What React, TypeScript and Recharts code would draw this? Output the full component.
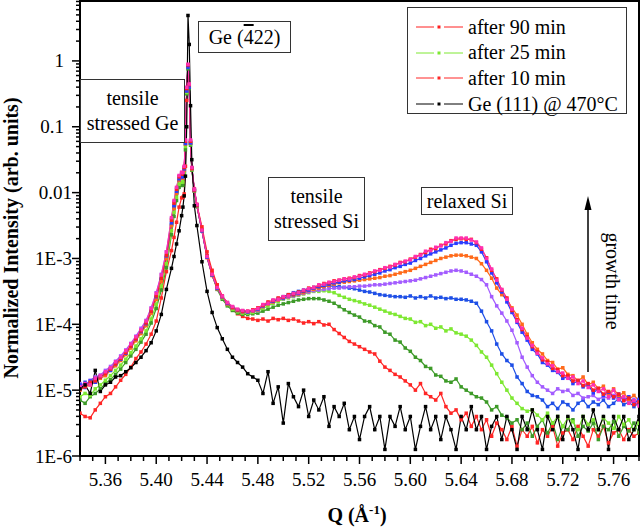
import { LineChart, Line, XAxis, YAxis, ReferenceArea } from "recharts";

const FONT = "'Liberation Serif', 'Times New Roman', serif";

// Q in 1/Å, denser round the Ge (-422) peak
const qValues = [
  5.340, 5.344, 5.348, 5.352, 5.356, 5.360, 5.364, 5.368, 5.372, 5.376,
  5.380, 5.384, 5.388, 5.392, 5.396, 5.400, 5.404, 5.408, 5.412, 5.414,
  5.416, 5.418, 5.420, 5.421, 5.422, 5.423, 5.424, 5.425, 5.426, 5.427,
  5.428, 5.430, 5.432, 5.436, 5.440, 5.444, 5.448, 5.452, 5.456, 5.460,
  5.464, 5.468, 5.472, 5.476, 5.480, 5.484, 5.488, 5.492, 5.496, 5.500,
  5.504, 5.508, 5.512, 5.516, 5.520, 5.524, 5.528, 5.532, 5.536, 5.540,
  5.544, 5.548, 5.552, 5.556, 5.560, 5.564, 5.568, 5.572, 5.576, 5.580,
  5.584, 5.588, 5.592, 5.596, 5.600, 5.604, 5.608, 5.612, 5.616, 5.620,
  5.624, 5.628, 5.632, 5.636, 5.640, 5.644, 5.648, 5.652, 5.656, 5.660,
  5.664, 5.668, 5.672, 5.676, 5.680, 5.684, 5.688, 5.692, 5.696, 5.700,
  5.704, 5.708, 5.712, 5.716, 5.720, 5.724, 5.728, 5.732, 5.736, 5.740,
  5.744, 5.748, 5.752, 5.756, 5.760, 5.764, 5.768, 5.772, 5.776, 5.780,
];

// all series: log10 of the normalized intensity
const pinkScan = [
  -4.95, -4.90, -4.92, -4.82, -4.78, -4.72, -4.66, -4.57, -4.50, -4.40,
  -4.30, -4.19, -4.08, -3.95, -3.76, -3.53, -3.25, -2.90, -2.38, -2.12,
  -1.92, -1.74, -1.69, -1.70, -1.60, -1.20, -0.40, -0.05, -0.35, -1.20,
  -1.62, -1.95, -2.18, -2.57, -2.97, -3.24, -3.44, -3.57, -3.67, -3.73,
  -3.77, -3.79, -3.80, -3.79, -3.76, -3.70, -3.68, -3.63, -3.62, -3.58,
  -3.57, -3.53, -3.52, -3.48, -3.46, -3.44, -3.40, -3.39, -3.36, -3.35,
  -3.33, -3.31, -3.31, -3.28, -3.27, -3.24, -3.23, -3.19, -3.18, -3.14,
  -3.13, -3.09, -3.07, -3.04, -3.02, -2.97, -2.95, -2.89, -2.88, -2.83,
  -2.81, -2.76, -2.74, -2.69, -2.69, -2.69, -2.72, -2.75, -2.84, -3.00,
  -3.16, -3.33, -3.47, -3.62, -3.77, -3.95, -4.06, -4.21, -4.32, -4.44,
  -4.51, -4.60, -4.63, -4.72, -4.74, -4.82, -4.80, -4.90, -4.86, -4.96,
  -4.92, -5.02, -4.98, -5.10, -5.00, -5.14, -5.10, -5.20, -5.16, -5.24,
];

const after90 = [
  -4.98, -4.95, -4.88, -4.86, -4.80, -4.75, -4.68, -4.60, -4.52, -4.43,
  -4.33, -4.22, -4.10, -3.98, -3.80, -3.57, -3.30, -2.95, -2.42, -2.16,
  -1.95, -1.76, -1.71, -1.72, -1.62, -1.22, -0.42, -0.06, -0.36, -1.22,
  -1.63, -1.96, -2.19, -2.56, -2.96, -3.23, -3.43, -3.57, -3.67, -3.74,
  -3.78, -3.80, -3.80, -3.78, -3.75, -3.71, -3.66, -3.64, -3.60, -3.59,
  -3.55, -3.54, -3.51, -3.49, -3.45, -3.44, -3.41, -3.38, -3.37, -3.34,
  -3.33, -3.31, -3.30, -3.29, -3.26, -3.25, -3.22, -3.20, -3.17, -3.15,
  -3.12, -3.10, -3.06, -3.05, -3.01, -2.98, -2.94, -2.91, -2.86, -2.85,
  -2.80, -2.78, -2.73, -2.71, -2.70, -2.71, -2.71, -2.76, -2.86, -2.99,
  -3.18, -3.31, -3.48, -3.60, -3.79, -3.93, -4.08, -4.19, -4.34, -4.42,
  -4.54, -4.57, -4.67, -4.69, -4.78, -4.78, -4.86, -4.85, -4.93, -4.90,
  -5.00, -4.97, -5.06, -5.02, -5.10, -5.06, -5.16, -5.12, -5.22, -5.18,
];

const blueScan = [
  -4.92, -4.96, -4.86, -4.88, -4.80, -4.74, -4.70, -4.60, -4.53, -4.44,
  -4.33, -4.22, -4.11, -3.99, -3.80, -3.58, -3.30, -2.96, -2.46, -2.20,
  -1.98, -1.79, -1.76, -1.76, -1.64, -1.25, -0.45, -0.08, -0.38, -1.24,
  -1.63, -1.96, -2.19, -2.58, -2.98, -3.25, -3.45, -3.58, -3.68, -3.74,
  -3.78, -3.80, -3.81, -3.79, -3.77, -3.72, -3.68, -3.65, -3.62, -3.60,
  -3.57, -3.55, -3.53, -3.50, -3.48, -3.45, -3.43, -3.41, -3.39, -3.37,
  -3.36, -3.34, -3.33, -3.32, -3.30, -3.28, -3.26, -3.24, -3.22, -3.19,
  -3.17, -3.14, -3.12, -3.09, -3.07, -3.03, -3.00, -2.96, -2.93, -2.90,
  -2.87, -2.84, -2.80, -2.77, -2.76, -2.76, -2.78, -2.80, -2.90, -3.05,
  -3.22, -3.37, -3.51, -3.66, -3.82, -3.97, -4.12, -4.24, -4.38, -4.45,
  -4.58, -4.62, -4.70, -4.73, -4.82, -4.80, -4.90, -4.86, -4.95, -4.92,
  -5.04, -4.98, -5.08, -5.03, -5.12, -5.06, -5.15, -5.10, -5.20, -5.14,
];

const orangeScan = [
  -5.00, -4.95, -4.92, -4.88, -4.82, -4.78, -4.70, -4.63, -4.55, -4.46,
  -4.36, -4.25, -4.14, -4.02, -3.83, -3.62, -3.35, -3.00, -2.50, -2.24,
  -2.01, -1.81, -1.78, -1.78, -1.66, -1.26, -0.45, -0.08, -0.38, -1.24,
  -1.64, -1.97, -2.20, -2.58, -2.99, -3.26, -3.46, -3.59, -3.69, -3.75,
  -3.79, -3.81, -3.81, -3.80, -3.78, -3.73, -3.69, -3.66, -3.63, -3.60,
  -3.58, -3.56, -3.54, -3.52, -3.49, -3.47, -3.45, -3.43, -3.41, -3.39,
  -3.37, -3.36, -3.35, -3.34, -3.33, -3.32, -3.31, -3.30, -3.29, -3.27,
  -3.26, -3.24, -3.22, -3.20, -3.18, -3.15, -3.12, -3.09, -3.06, -3.03,
  -3.00, -2.98, -2.96, -2.95, -2.95, -2.96, -2.98, -3.00, -3.08, -3.18,
  -3.30, -3.45, -3.55, -3.62, -3.75, -3.86, -4.00, -4.15, -4.28, -4.38,
  -4.45, -4.55, -4.58, -4.68, -4.66, -4.76, -4.78, -4.86, -4.80, -4.92,
  -4.88, -4.98, -4.94, -5.06, -4.98, -5.08, -5.04, -5.14, -5.08, -5.16,
];

const violetScan = [
  -4.90, -4.93, -4.85, -4.80, -4.77, -4.70, -4.64, -4.56, -4.48, -4.39,
  -4.29, -4.18, -4.06, -3.94, -3.75, -3.52, -3.24, -2.90, -2.40, -2.14,
  -1.93, -1.75, -1.70, -1.71, -1.61, -1.21, -0.42, -0.06, -0.36, -1.21,
  -1.62, -1.95, -2.19, -2.57, -2.97, -3.24, -3.45, -3.58, -3.68, -3.74,
  -3.78, -3.80, -3.81, -3.80, -3.79, -3.73, -3.69, -3.66, -3.63, -3.61,
  -3.59, -3.57, -3.55, -3.53, -3.51, -3.49, -3.48, -3.47, -3.46, -3.45,
  -3.45, -3.44, -3.43, -3.43, -3.42, -3.42, -3.41, -3.40, -3.40, -3.39,
  -3.38, -3.37, -3.36, -3.35, -3.34, -3.33, -3.31, -3.29, -3.27, -3.25,
  -3.23, -3.21, -3.19, -3.18, -3.19, -3.21, -3.24, -3.27, -3.32, -3.40,
  -3.58, -3.72, -3.83, -3.95, -4.09, -4.28, -4.50, -4.65, -4.78, -4.88,
  -4.95, -5.00, -5.05, -4.98, -5.02, -5.00, -5.08, -5.05, -5.12, -5.10,
  -5.08, -5.14, -5.10, -5.12, -5.08, -5.15, -5.12, -5.18, -5.14, -5.16,
];

const royalBlueScan = [
  -4.95, -4.88, -4.90, -4.84, -4.79, -4.76, -4.68, -4.60, -4.53, -4.44,
  -4.34, -4.23, -4.12, -4.00, -3.82, -3.60, -3.32, -2.98, -2.48, -2.22,
  -2.00, -1.81, -1.78, -1.78, -1.66, -1.26, -0.46, -0.10, -0.40, -1.25,
  -1.64, -1.97, -2.20, -2.58, -2.98, -3.25, -3.46, -3.59, -3.69, -3.75,
  -3.79, -3.81, -3.81, -3.80, -3.79, -3.72, -3.68, -3.64, -3.61, -3.58,
  -3.55, -3.52, -3.50, -3.48, -3.46, -3.44, -3.43, -3.42, -3.42, -3.42,
  -3.43, -3.44, -3.45, -3.46, -3.48, -3.50, -3.51, -3.53, -3.55, -3.56,
  -3.57, -3.58, -3.58, -3.59, -3.57, -3.60, -3.58, -3.60, -3.57, -3.60,
  -3.59, -3.61, -3.60, -3.62, -3.62, -3.63, -3.65, -3.68, -3.80, -3.96,
  -4.10, -4.30, -4.45, -4.55, -4.62, -4.80, -4.90, -5.02, -5.08, -5.10,
  -5.15, -5.25, -5.20, -5.28, -5.18, -5.22, -5.30, -5.20, -5.15, -5.25,
  -5.18, -5.22, -5.15, -5.25, -5.20, -5.12, -5.22, -5.18, -5.25, -5.20,
];

const after25 = [
  -5.10, -5.05, -5.08, -4.98, -4.92, -4.85, -4.78, -4.70, -4.62, -4.53,
  -4.43, -4.33, -4.22, -4.10, -3.92, -3.70, -3.42, -3.08, -2.58, -2.30,
  -2.07, -1.87, -1.84, -1.84, -1.70, -1.30, -0.48, -0.10, -0.40, -1.26,
  -1.65, -1.97, -2.20, -2.57, -2.97, -3.25, -3.46, -3.60, -3.70, -3.77,
  -3.81, -3.83, -3.83, -3.82, -3.80, -3.76, -3.72, -3.68, -3.65, -3.62,
  -3.60, -3.58, -3.56, -3.54, -3.52, -3.50, -3.50, -3.49, -3.50, -3.52,
  -3.56, -3.59, -3.62, -3.64, -3.66, -3.69, -3.71, -3.74, -3.77, -3.80,
  -3.83, -3.85, -3.88, -3.91, -3.92, -3.97, -3.96, -4.02, -4.00, -4.06,
  -4.04, -4.10, -4.07, -4.13, -4.15, -4.18, -4.24, -4.32, -4.42, -4.50,
  -4.62, -4.75, -4.88, -5.00, -5.12, -5.20, -5.28, -5.32, -5.30, -5.38,
  -5.45, -5.35, -5.50, -5.40, -5.55, -5.42, -5.48, -5.60, -5.40, -5.52,
  -5.45, -5.60, -5.42, -5.50, -5.58, -5.40, -5.52, -5.45, -5.60, -5.50,
];

const darkGreenScan = [
  -5.15, -5.20, -5.10, -5.05, -4.98, -4.90, -4.84, -4.76, -4.68, -4.58,
  -4.48, -4.38, -4.27, -4.15, -3.98, -3.76, -3.48, -3.14, -2.64, -2.36,
  -2.12, -1.92, -1.89, -1.89, -1.75, -1.35, -0.50, -0.12, -0.42, -1.28,
  -1.66, -1.98, -2.21, -2.57, -2.96, -3.25, -3.47, -3.62, -3.72, -3.79,
  -3.83, -3.85, -3.85, -3.84, -3.83, -3.80, -3.77, -3.74, -3.71, -3.69,
  -3.67, -3.65, -3.63, -3.62, -3.61, -3.61, -3.61, -3.63, -3.65, -3.68,
  -3.73, -3.78, -3.82, -3.86, -3.89, -3.95, -3.96, -4.02, -4.04, -4.12,
  -4.15, -4.24, -4.27, -4.36, -4.41, -4.50, -4.55, -4.64, -4.67, -4.77,
  -4.79, -4.86, -4.88, -4.83, -4.95, -5.00, -5.05, -5.10, -5.12, -5.18,
  -5.30, -5.25, -5.38, -5.42, -5.50, -5.45, -5.60, -5.50, -5.70, -5.55,
  -5.45, -5.65, -5.50, -5.75, -5.55, -5.60, -5.45, -5.70, -5.55, -5.62,
  -5.50, -5.75, -5.55, -5.60, -5.48, -5.70, -5.55, -5.62, -5.50, -5.65,
];

const after10 = [
  -5.35, -5.40, -5.42, -5.30, -5.20, -5.10, -5.05, -4.95, -4.85, -4.76,
  -4.65, -4.52, -4.42, -4.30, -4.15, -3.95, -3.60, -3.20, -2.88, -2.68,
  -2.45, -2.22, -2.08, -2.07, -2.02, -1.60, -0.60, -0.08, -0.40, -1.25,
  -1.62, -1.94, -2.18, -2.52, -2.90, -3.18, -3.40, -3.57, -3.70, -3.78,
  -3.84, -3.88, -3.91, -3.92, -3.94, -3.92, -3.95, -3.91, -3.93, -3.91,
  -3.94, -3.92, -3.95, -3.98, -3.96, -3.99, -3.96, -4.01, -4.00, -4.08,
  -4.14, -4.20, -4.26, -4.30, -4.34, -4.38, -4.42, -4.45, -4.56, -4.65,
  -4.70, -4.76, -4.80, -4.86, -4.92, -5.00, -4.90, -5.05, -5.10, -5.15,
  -5.05, -5.25, -5.35, -5.30, -5.45, -5.35, -5.55, -5.40, -5.60, -5.45,
  -5.70, -5.50, -5.60, -5.75, -5.55, -5.85, -5.60, -5.70, -5.55, -5.80,
  -5.60, -5.70, -5.55, -5.85, -5.65, -5.60, -5.75, -5.55, -5.70, -5.85,
  -5.60, -5.70, -5.55, -5.80, -5.65, -5.60, -5.75, -5.60, -5.70, -5.65,
];

const ge111 = [
  -4.98, -4.92, -5.05, -4.70, -5.02, -4.92, -4.88, -4.80, -4.78, -4.72,
  -4.66, -4.58, -4.50, -4.40, -4.28, -4.10, -3.85, -3.47, -3.15, -2.97,
  -2.78, -2.58, -2.35, -2.22, -2.05, -1.75, -1.00, 0.69, 0.25, -0.68,
  -1.50, -2.20, -2.50, -3.05, -3.50, -3.82, -4.05, -4.22, -4.38, -4.50,
  -4.58, -4.65, -4.75, -4.80, -4.85, -5.05, -4.72, -5.20, -4.95, -5.50,
  -4.90, -5.10, -5.25, -5.00, -5.40, -5.15, -5.30, -5.10, -5.55, -5.25,
  -5.40, -5.20, -5.60, -5.40, -5.75, -5.40, -5.25, -5.60, -5.40, -5.90,
  -5.40, -5.55, -5.25, -5.60, -5.40, -5.90, -5.55, -5.25, -5.60, -5.40,
  -5.75, -5.40, -5.60, -5.90, -5.40, -5.60, -5.25, -5.60, -5.40, -5.90,
  -5.55, -5.40, -5.75, -5.40, -5.60, -5.90, -5.40, -5.60, -5.30, -5.60,
  -5.90, -5.40, -5.60, -5.40, -5.75, -5.40, -5.60, -5.90, -5.40, -5.60,
  -5.30, -5.60, -5.40, -5.90, -5.40, -5.60, -5.40, -5.75, -5.60, -5.40,
];

// draw order: weakest first, Ge reference on top
const series = [
  { key: "s10", data: after10, color: "#ff2626" },
  { key: "sDarkGreen", data: darkGreenScan, color: "#3d9a28" },
  { key: "s25", data: after25, color: "#7ee832" },
  { key: "sRoyal", data: royalBlueScan, color: "#1e4fe6" },
  { key: "sViolet", data: violetScan, color: "#a35cff" },
  { key: "sOrange", data: orangeScan, color: "#ff6a1a" },
  { key: "sBlue", data: blueScan, color: "#2a3cff" },
  { key: "s90", data: after90, color: "#ff2020" },
  { key: "sPink", data: pinkScan, color: "#ff30b0" },
  { key: "ge", data: ge111, color: "#000000" },
];

const legendItems = [
  { label: "after 90 min", color: "#ff2020" },
  { label: "after 25 min", color: "#7ee832" },
  { label: "after 10 min", color: "#ff2626" },
  { label: "Ge (111) @ 470°C", color: "#000000" },
];

const X_TICKS = Array.from({ length: 45 }, (_, i) => +(5.34 + i * 0.01).toFixed(2));
const Y_TICKS: number[] = [];
for (let n = -6; n <= 0; n++) {
  for (let k = 1; k <= 9; k++) {
    const v = n + Math.log10(k);
    if (v <= 0.91) Y_TICKS.push(v);
  }
}
const Y_LABELS: Record<string, string> = {
  "0": "1", "-1": "0.1", "-2": "0.01", "-3": "1E-3", "-4": "1E-4", "-5": "1E-5", "-6": "1E-6",
};

const rows = qValues.map((q, i) => {
  const row: Record<string, number> = { q };
  series.forEach((s) => (row[s.key] = s.data[i]));
  return row;
});

function XTick({ x, y, payload }: any) {
  const v = payload.value as number;
  const major = Math.round(v * 100) % 4 === 0;
  return (
    <g>
      <line x1={x} x2={x} y1={y} y2={y + (major ? 8 : 5)} stroke="#000" strokeWidth={1.5} />
      {major && (
        <text x={x} y={y + 30} textAnchor="middle" fontSize={19} fontFamily={FONT} fill="#000">
          {v.toFixed(2)}
        </text>
      )}
    </g>
  );
}

function YTick({ x, y, payload }: any) {
  const v = payload.value as number;
  const major = Math.abs(v - Math.round(v)) < 1e-6;
  const label = major ? Y_LABELS[String(Math.round(v))] : null;
  const shift = label === "1" || label === "0.1" ? 8 : 0;
  return (
    <g>
      <line x1={x - (major ? 8 : 4)} x2={x} y1={y} y2={y} stroke="#000" strokeWidth={1.5} />
      {label && (
        <text x={x - 8 - shift} y={y + 6.5} textAnchor="end" fontSize={19} fontFamily={FONT} fill="#000">
          {label}
        </text>
      )}
    </g>
  );
}

const squareDot = (color: string) => (p: any) =>
  p.cx == null || p.cy == null ? (
    <g key={`e${p.index}`} />
  ) : (
    <rect key={`d${p.index}`} x={p.cx - 1.75} y={p.cy - 1.75} width={3.5} height={3.5} fill={color} />
  );

const boxStyle: React.CSSProperties = {
  position: "absolute",
  border: "1px solid #333",
  background: "#fff",
  fontFamily: FONT,
  fontSize: 20,
  lineHeight: "25px",
  textAlign: "center",
  display: "flex",
  flexDirection: "column",
  justifyContent: "center",
  boxSizing: "border-box",
};

export default function App() {
  return (
    <div style={{ position: "absolute", left: 0, top: 0, width: 640, height: 528, background: "#fff", overflow: "hidden" }}>
      <LineChart width={640} height={528} data={rows} margin={{ top: 1, right: 1, bottom: 22, left: 2 }}>
        <XAxis
          dataKey="q"
          type="number"
          domain={[5.34, 5.78]}
          allowDataOverflow
          ticks={X_TICKS}
          interval={0}
          tick={<XTick />}
          tickLine={false}
          tickSize={0}
          tickMargin={0}
          height={50}
          axisLine={{ stroke: "#000", strokeWidth: 2 }}
        />
        <YAxis
          type="number"
          domain={[-6, 0.91]}
          allowDataOverflow
          ticks={Y_TICKS}
          interval={0}
          tick={<YTick />}
          tickLine={false}
          tickSize={0}
          tickMargin={0}
          width={78}
          axisLine={{ stroke: "#000", strokeWidth: 2 }}
        />
        {series.map((s) => (
          <Line
            key={s.key}
            type="linear"
            dataKey={s.key}
            stroke={s.color}
            strokeWidth={1.2}
            dot={squareDot(s.color)}
            activeDot={false}
            isAnimationActive={false}
          />
        ))}
        <ReferenceArea x1={5.34} x2={5.78} y1={-6} y2={0.91} fill="none" stroke="#000" strokeWidth={2} ifOverflow="visible" />
      </LineChart>

      {/* annotations */}
      <div style={{ ...boxStyle, left: 198, top: 21, width: 93, height: 32 }}>
        <span>
          Ge (<span style={{ textDecoration: "overline" }}>4</span>22)
        </span>
      </div>
      <div style={{ ...boxStyle, left: 80, top: 79, width: 105, height: 64 }}>
        <span>tensile</span>
        <span>stressed Ge</span>
      </div>
      <div style={{ ...boxStyle, left: 268, top: 177, width: 97, height: 64 }}>
        <span>tensile</span>
        <span>stressed Si</span>
      </div>
      <div style={{ ...boxStyle, left: 421, top: 187, width: 92, height: 28 }}>
        <span>relaxed Si</span>
      </div>

      {/* legend */}
      <div style={{ position: "absolute", left: 407, top: 7, width: 220, height: 107, border: "1px solid #333", background: "#fff", boxSizing: "border-box" }}>
        {legendItems.map((it, i) => (
          <div key={it.label} style={{ position: "absolute", left: 0, top: 6 + i * 25.7, height: 26, display: "flex", alignItems: "center", fontFamily: FONT, fontSize: 20, whiteSpace: "nowrap" }}>
            <svg width={60} height={26}>
              <line x1={8} x2={26} y1={13} y2={13} stroke={it.color} strokeWidth={1} />
              <line x1={36} x2={55} y1={13} y2={13} stroke={it.color} strokeWidth={1} />
              <rect x={29.5} y={11.5} width={3} height={3} fill={it.color} />
            </svg>
            <span>{it.label}</span>
          </div>
        ))}
      </div>

      {/* growth arrow */}
      <svg width={640} height={528} style={{ position: "absolute", left: 0, top: 0, pointerEvents: "none" }}>
        <line x1={588} x2={588} y1={372} y2={206} stroke="#000" strokeWidth={1.5} />
        <polygon points="588,196 584.5,210 591.5,210" fill="#000" />
      </svg>
      <div style={{ position: "absolute", left: 613 - 60, top: 281 - 12, width: 120, height: 24, lineHeight: "24px", textAlign: "center", transform: "rotate(90deg)", fontFamily: FONT, fontSize: 20 }}>
        growth time
      </div>

      {/* axis titles */}
      <div style={{ position: "absolute", left: 11 - 170, top: 238 - 12, width: 340, height: 24, lineHeight: "24px", textAlign: "center", transform: "rotate(-90deg)", fontFamily: FONT, fontSize: 20, fontWeight: "bold" }}>
        Normalized Intensity (arb. units)
      </div>
      <div style={{ position: "absolute", left: 357 - 60, top: 503, width: 120, height: 24, lineHeight: "24px", textAlign: "center", fontFamily: FONT, fontSize: 20, fontWeight: "bold" }}>
        Q (Å<sup style={{ fontSize: 13, lineHeight: 0 }}>-1</sup>)
      </div>
    </div>
  );
}
